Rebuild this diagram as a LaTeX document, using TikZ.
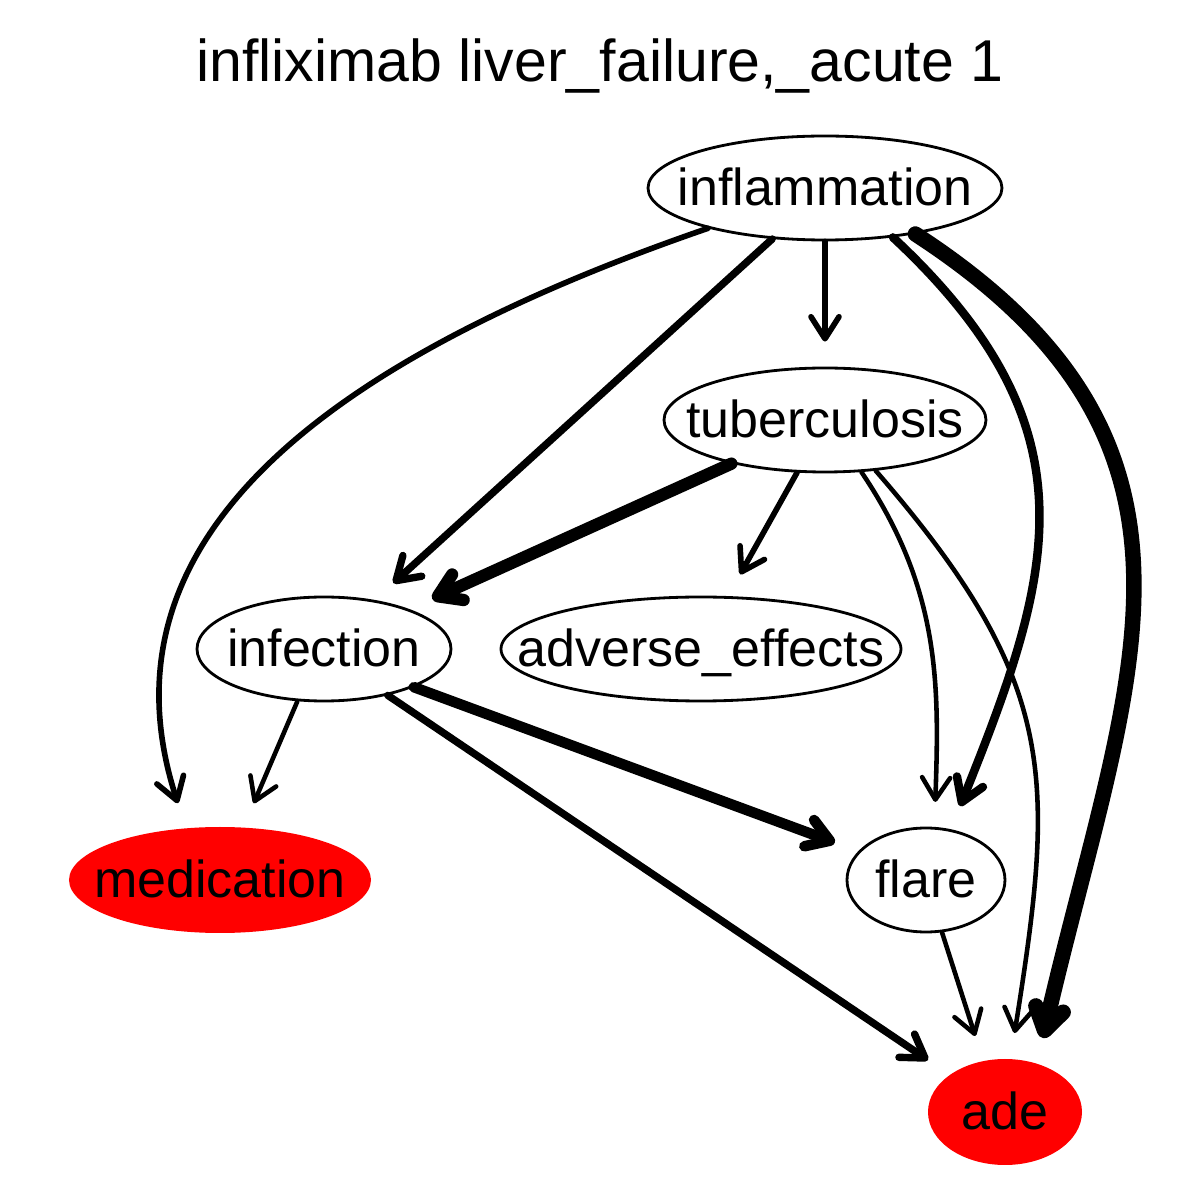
\documentclass[tikz,border=0pt]{standalone}
\usepackage{fontspec}
\setmainfont{Liberation Sans}
\usetikzlibrary{arrows.meta,shapes.geometric}

% label of zero width, so the ellipse keeps its own size
\newcommand{\lbl}[1]{\makebox[0pt]{#1}}

\begin{document}
\begin{tikzpicture}[>={Straight Barb[length=2.2mm,width=2.8mm,round]},line cap=round,
  var/.style={ellipse,draw,line width=0.8pt,inner sep=0pt,minimum height=1.04cm,
    font=\fontsize{14.8}{17}\selectfont,text height=1.05em,text depth=0.05em},
  obs/.style={var,draw=none,fill=red},
  lw1/.style={->,line width=1.3pt,shorten >=0.25cm},
  lw2/.style={->,line width=1.6pt,shorten >=0.25cm},
  lw3/.style={->,line width=2.1pt,shorten >=0.25cm},
  lw4/.style={->,line width=2.4pt,shorten >=0.25cm},
  lw5/.style={->,line width=3pt,shorten >=0.25cm},
  lw6/.style={->,line width=3.5pt,shorten >=0.25cm},
  lw7/.style={->,line width=4.4pt,shorten >=0.25cm}]
\useasboundingbox (0,0) rectangle (12,12);

\node[font=\fontsize{16.8}{20}\selectfont,anchor=base] (title) at (6,11.18)
  {infliximab liver\_failure,\_acute 1};

% nodes
\node[var,minimum width=3.54cm] (inflammation) at (8.25,10.12) {\lbl{inflammation}};
\node[var,minimum width=3.22cm] (tuberculosis) at (8.25,7.80) {\lbl{tuberculosis}};
\node[var,minimum width=2.54cm] (infection) at (3.24,5.51) {\lbl{infection}};
\node[var,minimum width=4.00cm] (adverse) at (7.01,5.51) {\lbl{adverse\_effects}};
\node[obs,minimum width=3.02cm,minimum height=1.06cm] (medication) at (2.20,3.20) {\lbl{medication}};
\node[var,minimum width=1.58cm] (flare) at (9.26,3.20) {\lbl{flare}};
\node[obs,minimum width=1.54cm,minimum height=1.06cm] (ade) at (10.05,0.88) {\lbl{ade}};

% edges from inflammation
\draw[lw2] (inflammation.199) to[out=199,in=108,out looseness=1.45,in looseness=0.9] (medication.123);
\draw[lw3] (inflammation.224) -- (infection.44);
\draw[lw2] (inflammation.south) -- (tuberculosis.north);
\draw[lw4] (inflammation.324) to[out=-43,in=68,looseness=1.2] (flare.64);
\draw[lw7] (inflammation.333) to[out=-33,in=77,looseness=1.2] (ade.57);

% edges from tuberculosis
\draw[lw6] (tuberculosis.205) -- (infection.25);
\draw[lw2] (tuberculosis.242) -- (adverse.63);
\draw[lw1] (tuberculosis.305) to[out=-56,in=88] (flare.81);
\draw[lw1] (tuberculosis.315) to[out=-49,in=81,looseness=1.2] (ade.84);

% edges from infection and flare
\draw[lw1] (infection.243) -- (medication.66);
\draw[lw5] (infection.337) -- (flare.157);
\draw[lw3] (infection.324) -- (ade.146);
\draw[lw1] (flare.287) -- (ade.113);
\end{tikzpicture}
\end{document}
